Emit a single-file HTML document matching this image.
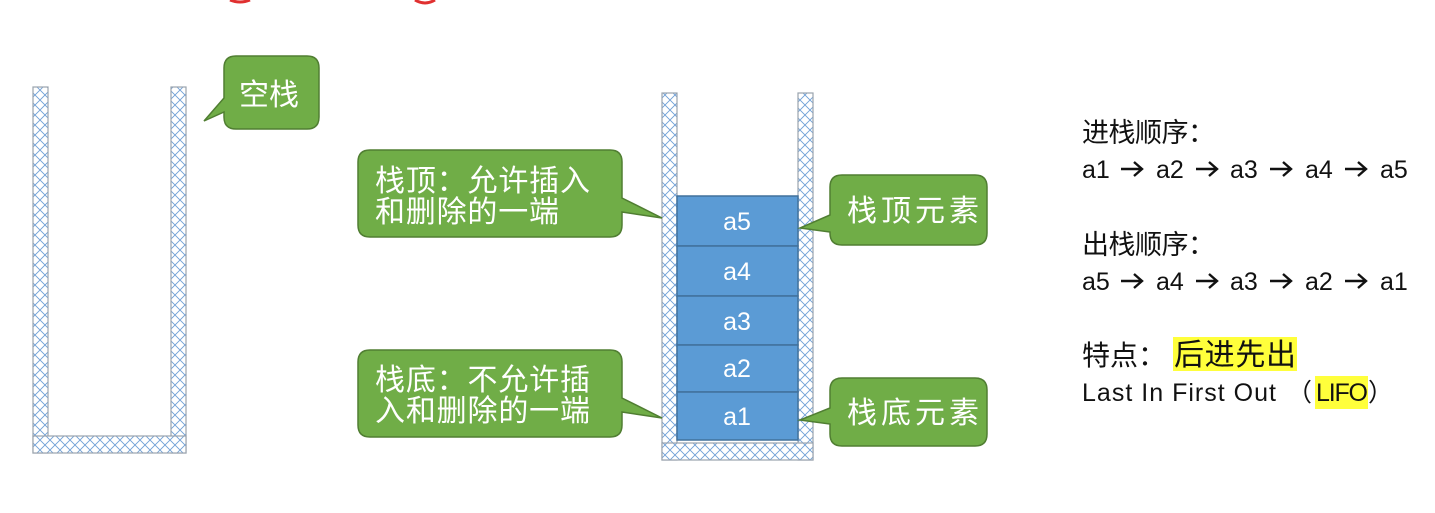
<!DOCTYPE html>
<html><head><meta charset="utf-8"><style>
html,body{margin:0;padding:0;background:#fff;width:1435px;height:513px;overflow:hidden}
text{font-family:"Liberation Sans","Noto Sans CJK SC",sans-serif}
</style></head><body>
<svg width="1435" height="513" xmlns="http://www.w3.org/2000/svg">
<defs>
<pattern id="x" width="10" height="10" patternUnits="userSpaceOnUse">
<rect width="10" height="10" fill="#fff"/>
<path d="M0 0L10 10M10 0L0 10" stroke="#6f9fd6" stroke-width="0.9"/>
</pattern>
<g id="ar"><path d="M0 -1H20M13 -8L21 -1L13 6" stroke="#111" stroke-width="2.4" fill="none"/></g>
</defs>
<path d="M230 0 Q240 4 250 0 M415 0 Q425 6 435 0" stroke="#e03030" stroke-width="3" fill="none"/>
<g stroke="#9aa3ad" stroke-width="1.2" fill="url(#x)">
<rect x="33" y="87" width="15" height="366"/>
<rect x="171" y="87" width="15" height="366"/>
<rect x="33" y="436" width="153" height="17"/>
<rect x="662" y="93" width="15" height="367"/>
<rect x="798" y="93" width="15" height="367"/>
<rect x="662" y="443" width="151" height="17"/>
</g>
<g fill="#5b9bd5" stroke="#41719c" stroke-width="1.5">
<rect x="677" y="196" width="121" height="50"/>
<rect x="677" y="246" width="121" height="50"/>
<rect x="677" y="296" width="121" height="49"/>
<rect x="677" y="345" width="121" height="47"/>
<rect x="677" y="392" width="121" height="48"/>
</g>
<g fill="#fff" font-size="25" text-anchor="middle">
<text x="737" y="230">a5</text><text x="737" y="280">a4</text><text x="737" y="330">a3</text><text x="737" y="377">a2</text><text x="737" y="425">a1</text>
</g>
<g fill="#70ad47" stroke="#507e32" stroke-width="1.5">
<path d="M236 56H307Q319 56 319 68V117Q319 129 307 129H236Q224 129 224 117V112L204 121L224 98V68Q224 56 236 56Z"/>
<path d="M370 150H610Q622 150 622 162V198L662 218L622 212V225Q622 237 610 237H370Q358 237 358 225V162Q358 150 370 150Z"/>
<path d="M370 350H610Q622 350 622 362V398L662 418L622 412V425Q622 437 610 437H370Q358 437 358 425V362Q358 350 370 350Z"/>
<path d="M842 175H975Q987 175 987 187V233Q987 245 975 245H842Q830 245 830 233V232L800 228L830 215V187Q830 175 842 175Z"/>
<path d="M842 378H975Q987 378 987 390V434Q987 446 975 446H842Q830 446 830 434V424L800 420L830 408V390Q830 378 842 378Z"/>
</g>
<g fill="#fff" font-size="30">
<text x="239" y="105">空栈</text>
<text x="375" y="191" textLength="215">栈顶：允许插入</text>
<text x="375" y="222" textLength="184">和删除的一端</text>
<text x="375" y="390" textLength="215">栈底：不允许插</text>
<text x="375" y="421" textLength="215">入和删除的一端</text>
<text x="847" y="221" textLength="132">栈顶元素</text>
<text x="847" y="423" textLength="132">栈底元素</text>
</g>
<rect x="1173" y="337" width="124" height="34" fill="#ffff3b"/>
<rect x="1315" y="376" width="53" height="33" fill="#ffff3b"/>
<g fill="#111" font-size="25">
<text x="1082" y="142" font-size="27" textLength="133">进栈顺序：</text>
<text x="1082" y="178">a1</text><text x="1156" y="178">a2</text><text x="1230" y="178">a3</text><text x="1305" y="178">a4</text><text x="1380" y="178">a5</text>
<text x="1082" y="254" font-size="27" textLength="133">出栈顺序：</text>
<text x="1082" y="290">a5</text><text x="1156" y="290">a4</text><text x="1230" y="290">a3</text><text x="1305" y="290">a2</text><text x="1380" y="290">a1</text>
<text x="1082" y="365" font-size="28">特点：</text>
<text x="1174" y="365" font-size="30" textLength="122">后进先出</text>
<text x="1082" y="401" textLength="194">Last In First Out</text>
<text x="1287" y="401">（</text>
<text x="1316" y="401" textLength="52">LIFO</text>
<text x="1368" y="401">）</text>
</g>
<use href="#ar" x="1121" y="170"/><use href="#ar" x="1196" y="170"/><use href="#ar" x="1270" y="170"/><use href="#ar" x="1345" y="170"/>
<use href="#ar" x="1121" y="282"/><use href="#ar" x="1196" y="282"/><use href="#ar" x="1270" y="282"/><use href="#ar" x="1345" y="282"/>
</svg>
</body></html>
